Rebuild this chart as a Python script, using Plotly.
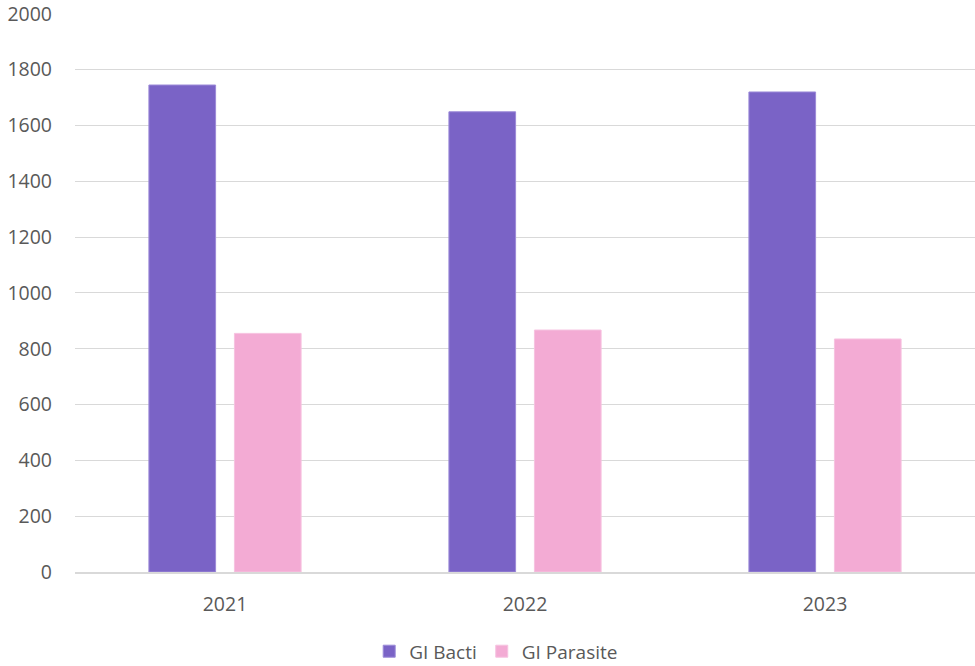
import plotly.graph_objects as go

years = ["2021", "2022", "2023"]
gi_bacti = [1745, 1649, 1720]
gi_parasite = [855, 867, 835]
y_ticks = [0, 200, 400, 600, 800, 1000, 1200, 1400, 1600, 1800, 2000]

FONT = "'Open Sans', sans-serif"
TXT = "#595959"

fig = go.Figure()
fig.add_trace(go.Bar(name="GI Bacti", x=years, y=gi_bacti,
                     marker=dict(color="#7A63C6", line=dict(color="#9C8BD8", width=1))))
fig.add_trace(go.Bar(name="GI Parasite", x=years, y=gi_parasite,
                     marker=dict(color="#F3ABD4", line=dict(color="#F6C2E0", width=1))))

fig.update_layout(
    width=975, height=666,
    margin=dict(l=75, r=0, t=13, b=94, autoexpand=False),
    paper_bgcolor="white", plot_bgcolor="white",
    barmode="group", bargap=0.43, bargroupgap=0.22,
    font=dict(family=FONT, size=19, color=TXT),
    showlegend=True,
    legend=dict(orientation="h", x=0.468, xanchor="center", yref="container",
                y=0.022, yanchor="middle",
                font=dict(size=19, color=TXT), itemwidth=30, traceorder="normal"),
)
fig.update_xaxes(showgrid=False, showline=True, linecolor="#d9d9d9", linewidth=1.5,
                 ticks="", ticklabelstandoff=14, tickfont=dict(size=19.5, color=TXT))
fig.update_yaxes(range=[0, 2003], tickvals=y_ticks, showgrid=True, gridcolor="#d9d9d9",
                 gridwidth=1, zeroline=False, showline=False, ticks="",
                 ticklabelstandoff=22, tickfont=dict(size=19.5, color=TXT),
                 ticklabeloverflow="allow")

fig.write_html("out.html")
